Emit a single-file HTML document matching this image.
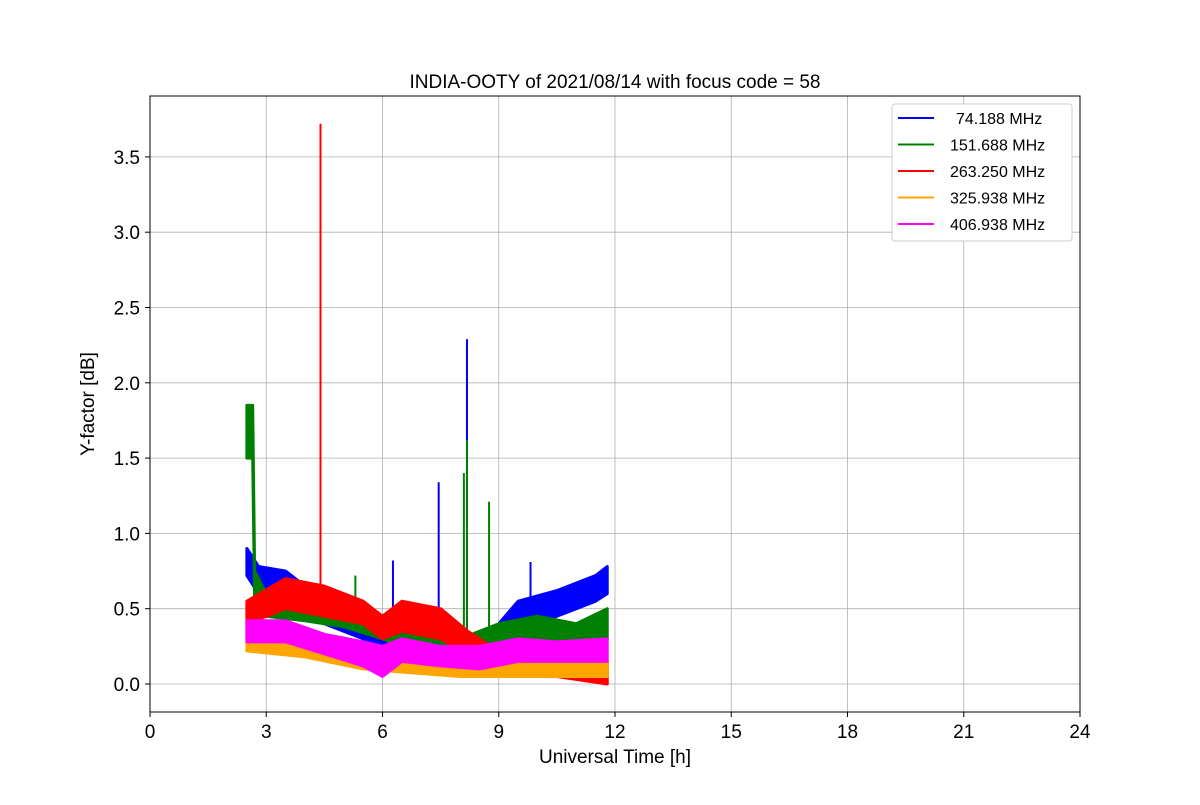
<!DOCTYPE html>
<html><head><meta charset="utf-8"><style>
body{margin:0;background:#fff}
svg text{font-family:"Liberation Sans","DejaVu Sans",sans-serif}
</style></head><body>
<svg id="chart" width="1200" height="800" xmlns="http://www.w3.org/2000/svg">
<rect width="1200" height="800" fill="#fff"/>
<g id="grid"></g>
<g id="series"></g>
<rect x="150" y="96" width="930" height="616" fill="none" stroke="#000" stroke-width="1"/>
<g id="axes"></g>
<text x="615" y="88" font-size="19" text-anchor="middle">INDIA-OOTY of 2021/08/14 with focus code = 58</text>
<text x="615" y="763" font-size="19" text-anchor="middle">Universal Time [h]</text>
<text transform="translate(94,404) rotate(-90)" font-size="19" text-anchor="middle">Y-factor [dB]</text>
<g id="legend"></g>
</svg>
<script>
const xTicks=[0,3,6,9,12,15,18,21,24];
const yTicks=[0,0.5,1.0,1.5,2.0,2.5,3.0,3.5];
const seriesNames=[" 74.188 MHz","151.688 MHz","263.250 MHz","325.938 MHz","406.938 MHz"];
const seriesColors=["blue","green","red","orange","magenta"];
const blueT=[2.5,2.8,3.5,4.5,5.5,6.5,7.5,8.5,9.5,10.5,11.5,11.8];
const blueLo=[0.72,0.6,0.55,0.4,0.3,0.1,0.1,0.05,0.35,0.45,0.55,0.6];
const blueHi=[0.9,0.78,0.75,0.55,0.45,0.3,0.25,0.25,0.55,0.62,0.72,0.78];
const blueSpikeT=[6.27,7.45,8.18,9.82];
const blueSpikeV=[0.82,1.34,2.29,0.81];
const greenT=[2.5,2.65,2.7,3,4,5,6,7,8,9,10,11,11.8];
const greenLo=[1.5,1.5,0.55,0.45,0.42,0.38,0.3,0.2,0.15,0.25,0.3,0.28,0.3];
const greenHi=[1.85,1.85,0.75,0.6,0.58,0.55,0.45,0.35,0.3,0.4,0.45,0.4,0.5];
const greenSpikeT=[5.3,8.1,8.18,8.75];
const greenSpikeV=[0.72,1.4,1.62,1.21];
const redT=[2.5,3.5,4.5,5.5,6,6.5,7.5,8.2,8.8,9.5,10.5,11.8];
const redLo=[0.4,0.5,0.45,0.4,0.3,0.35,0.3,0.2,0.08,0.05,0.05,0.0];
const redHi=[0.55,0.7,0.65,0.55,0.45,0.55,0.5,0.35,0.25,0.15,0.15,0.15];
const redSpikeT=[4.4];
const redSpikeV=[3.72];
const orangeT=[2.5,4,5.5,6.5,8,9.5,11.8];
const orangeLo=[0.22,0.18,0.1,0.08,0.05,0.05,0.05];
const orangeHi=[0.35,0.3,0.25,0.2,0.18,0.15,0.15];
const magT=[2.5,3.5,4.5,5.5,6,6.5,7.5,8.5,9.5,10.5,11.8];
const magLo=[0.28,0.28,0.2,0.12,0.05,0.15,0.12,0.1,0.15,0.15,0.15];
const magHi=[0.42,0.42,0.33,0.28,0.25,0.3,0.25,0.25,0.3,0.28,0.3];

const NS="http://www.w3.org/2000/svg";
const X=v=>150+v*930/24;
const Y=v=>684-v*150.6;
function mk(tag,attrs,parent){const e=document.createElementNS(NS,tag);for(const k in attrs)e.setAttribute(k,attrs[k]);parent.appendChild(e);return e;}
const grid=document.getElementById('grid'),axes=document.getElementById('axes'),ser=document.getElementById('series'),leg=document.getElementById('legend');
xTicks.forEach(t=>{
 const l=mk('line',{x1:X(t),x2:X(t),y1:96,y2:712,stroke:'#b0b0b0','stroke-width':0.8},grid);
 
 
 mk('line',{x1:X(t),x2:X(t),y1:712,y2:717,stroke:'#000'},axes);
 const tx=mk('text',{x:X(t),y:738,'font-size':19,'text-anchor':'middle'},axes);tx.textContent=t;
 
 
});
yTicks.forEach(t=>{
 const l=mk('line',{x1:150,x2:1080,y1:Y(t),y2:Y(t),stroke:'#b0b0b0','stroke-width':0.8},grid);
 
 
 mk('line',{x1:145,x2:150,y1:Y(t),y2:Y(t),stroke:'#000'},axes);
 const tx=mk('text',{x:140,y:Y(t)+7,'font-size':19,'text-anchor':'end'},axes);tx.textContent=t.toFixed(1);
 
 
});
function band(T,lo,hi,color,name,sT,sV){
 const g=mk('g',{},ser);
 
 
 let pts=T.map((t,i)=>X(t)+','+Y(hi[i]));
 for(let i=T.length-1;i>=0;i--)pts.push(X(T[i])+','+Y(lo[i]));
 mk('polygon',{points:pts.join(' '),fill:color,stroke:color,'stroke-width':3,'stroke-linejoin':'round'},g);
 (sT||[]).forEach((t,i)=>{
  let base=lo[0];for(let j=0;j<T.length-1;j++){if(t>=T[j]&&t<=T[j+1]){base=lo[j]+(lo[j+1]-lo[j])*(t-T[j])/(T[j+1]-T[j]);}}
  const s=mk('line',{x1:X(t),x2:X(t),y1:Y(base),y2:Y(sV[i]),stroke:color,'stroke-width':2},g);
  
  
 });
}
band(blueT,blueLo,blueHi,'blue','series-74mhz',blueSpikeT,blueSpikeV);
band(greenT,greenLo,greenHi,'green','series-151mhz',greenSpikeT,greenSpikeV);
band(redT,redLo,redHi,'red','series-263mhz',redSpikeT,redSpikeV);
band(orangeT,orangeLo,orangeHi,'orange','series-325mhz');
band(magT,magLo,magHi,'magenta','series-406mhz');
const box=mk('rect',{x:892,y:104,width:180,height:137,rx:3,fill:'#fff',stroke:'#ccc'},leg);


seriesNames.forEach((n,i)=>{
 const y=118+i*26.5;
 const g=mk('g',{},leg);
 
 
 mk('line',{x1:898,x2:934,y1:y,y2:y,stroke:seriesColors[i],'stroke-width':2},g);
 const t=mk('text',{x:950,y:y+6,'font-size':16,'xml:space':'preserve'},g);t.textContent=n;
 if(i===0)t.setAttribute('x',956);
});
</script>
</body></html>
